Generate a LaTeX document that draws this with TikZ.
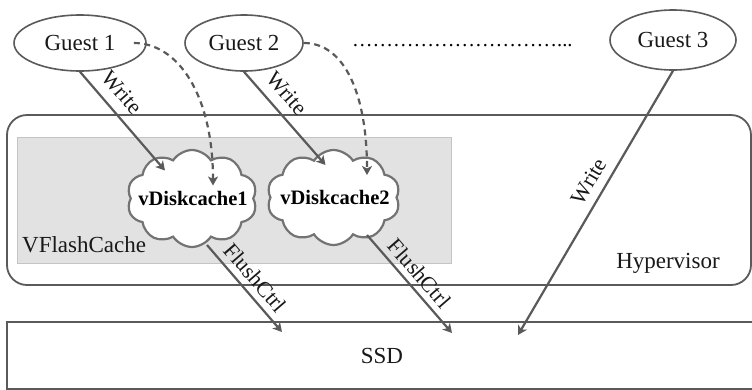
\documentclass[tikz,border=0pt]{standalone}
\usepackage{fontspec}
\setmainfont{Liberation Serif}
\usetikzlibrary{shapes.geometric,shapes.symbols,arrows.meta,calc}
\definecolor{ln}{HTML}{5A5A5A}
\definecolor{boxfill}{HTML}{E2E2E2}
\definecolor{boxline}{HTML}{C4C4C4}
\newcommand\myell{…}
\begin{document}
\begin{tikzpicture}[x=1pt,y=1pt,
  txt/.style={font=\fontsize{23}{27}\selectfont, text=black!90},
  guest/.style={ellipse, draw=ln, line width=1.6pt, fill=white, inner sep=0pt, txt},
  frame/.style={draw=ln, line width=1.8pt, inner sep=0pt},
  cloudbox/.style={cloud, cloud puffs=10, cloud puff arc=115, cloud ignores aspect, draw=ln!85, line width=2.2pt, fill=white, inner sep=0pt},
  cloudtxt/.style={font=\bfseries\fontsize{20.5}{24}\selectfont, inner sep=0pt},
  arr/.style={draw=ln, line width=2.2pt, -{Stealth[length=9pt,width=10pt,inset=2.5pt]}},
  dasharr/.style={arr, dash pattern=on 6pt off 4.5pt},
  lbl/.style={font=\fontsize{22}{26}\selectfont, sloped, inner sep=1pt, text=black!90},
]
\clip (0,0) rectangle (752,-389);
\fill[white] (0,0) rectangle (752,-389);
% frames
\node[frame, rounded corners=20pt, minimum width=744pt, minimum height=170pt] (hyp) at (379,-200) {};
\node[draw=boxline, fill=boxfill, line width=1pt, minimum width=434pt, minimum height=126pt, inner sep=0pt] (vfc) at (234,-200) {};
\node[frame, minimum width=750pt, minimum height=67pt, txt] (ssd) at (382,-355.5) {SSD};
\node[txt, inner sep=0pt, anchor=base west] (vl) at (22,-252) {VFlashCache};
\node[txt, inner sep=0pt, anchor=base] (hl) at (668,-268) {Hypervisor};
% guests
\node[guest, minimum width=132pt, minimum height=56pt] (g1) at (80,-43) {Guest 1};
\node[guest, minimum width=118pt, minimum height=56pt] (g2) at (244,-43) {Guest 2};
\node[guest, minimum width=126pt, minimum height=60pt] (g3) at (673,-40) {Guest 3};
\node[font=\fontsize{20.5}{24}\selectfont, inner sep=0pt, anchor=base west] (dots) at (352,-46) {\myell\myell\myell\myell\myell\myell\myell\myell\myell\myell...};
% clouds
\node[cloudbox, minimum width=130pt, minimum height=97pt] (c1) at (192,-198.5) {};
\node[cloudbox, minimum width=133pt, minimum height=95pt] (c2) at (333.5,-197.5) {};
\node[cloudtxt] (t1) at (193,-198) {vDiskcache1};
\node[cloudtxt] (t2) at (335,-197) {vDiskcache2};
% free ends
\coordinate (e3) at (518,-335);
\coordinate (f1) at (282,-332);
\coordinate (f2) at (452,-333);
% connectors
\draw[arr] (g1.south) -- ($(c1.center)+(-27,28)$) node[lbl, pos=0.33, above=9pt] {Write};
\draw[arr] (g2.south) -- ($(c2.center)+(-8,32.5)$) node[lbl, pos=0.36, above=9pt] {Write};
\draw[arr] (g3.south) -- (e3) node[lbl, pos=0.45, above=7pt] {Write};
\draw[dasharr] ($(g1.east)+(-13,0)$) .. controls (178,-43) and (213,-95) .. ($(c1.center)+(21,13)$);
\draw[dasharr] (g2.east) .. controls (345,-43) and (367,-95) .. ($(c2.center)+(33.5,22.5)$);
\draw[arr] ($(c1.center)+(15,-46.5)$) -- (f1) node[lbl, pos=0.49, above=5.5pt] {FlushCtrl};
\draw[arr] ($(c2.center)+(33.5,-37.5)$) -- (f2) node[lbl, pos=0.49, above=5pt] {FlushCtrl};
\end{tikzpicture}
\end{document}
